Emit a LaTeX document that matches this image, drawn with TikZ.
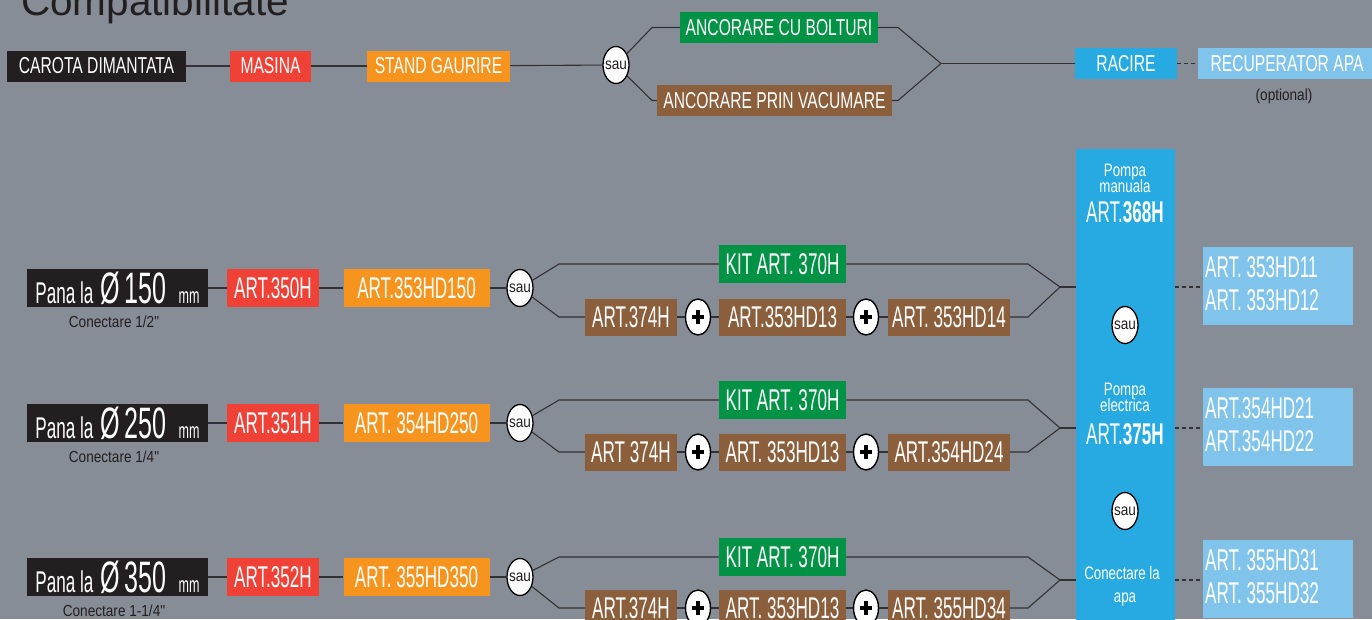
\documentclass[tikz,border=0pt]{standalone}
\usepackage{fontspec}
\setmainfont{Liberation Sans}
\newfontfamily\fA{Liberation Sans}[FakeStretch=0.68]
\newfontfamily\fB{Liberation Sans}[FakeStretch=0.57]
\newfontfamily\fC{Liberation Sans}[FakeStretch=0.74]
\newfontfamily\fD{Liberation Sans}[FakeStretch=0.85]
\usetikzlibrary{shapes.geometric}
\definecolor{bg}{RGB}{135,141,151}
\definecolor{cblack}{RGB}{35,31,32}
\definecolor{cred}{RGB}{239,65,54}
\definecolor{corange}{RGB}{247,148,30}
\definecolor{cgreen}{RGB}{0,146,69}
\definecolor{cbrown}{RGB}{139,94,60}
\definecolor{cblue}{RGB}{39,170,225}
\definecolor{clight}{RGB}{128,196,236}
\definecolor{cline}{RGB}{50,50,52}
\begin{document}
\begin{tikzpicture}[x=1pt,y=-1pt,
 topbox/.style={inner sep=0pt, minimum height=31pt, text=white, font=\fA\fontsize{23}{23}\selectfont},
 rowbox/.style={inner sep=0pt, minimum height=38pt, text=white, font=\fB\fontsize{30}{30}\selectfont},
 saunode/.style={ellipse, draw=black, line width=1.3pt, fill=white, inner sep=0pt, minimum width=26pt, minimum height=37pt, font=\fD\fontsize{16}{16}\selectfont, text=cblack},
 plusnode/.style={ellipse, draw=black, line width=1.4pt, fill=white, inner sep=0pt, minimum width=25pt, minimum height=36pt,
   path picture={\draw[black, line width=3.6pt] ([xshift=-6pt]path picture bounding box.center) -- ([xshift=6pt]path picture bounding box.center);
                 \draw[black, line width=3.6pt] ([yshift=-7pt]path picture bounding box.center) -- ([yshift=7pt]path picture bounding box.center);}},
 conn/.style={draw=cline, line width=1.1pt},
 dashconn/.style={conn, dash pattern=on 4pt off 3pt},
 captxt/.style={text=cblack, font=\fD\fontsize{16}{16}\selectfont, inner sep=0pt, anchor=base},
 ptxt/.style={text=white, font=\fC\fontsize{18}{18}\selectfont, inner sep=0pt, anchor=base},
 pbig/.style={text=white, font=\fB\fontsize{30}{30}\selectfont, inner sep=0pt, anchor=base},
 lbox/.style={fill=clight, minimum width=150pt, minimum height=78pt, inner sep=0pt},
 lbtxt/.style={text=white, font=\fB\fontsize{30}{30}\selectfont, inner sep=0pt, anchor=base west},
]
\useasboundingbox (0,0) rectangle (1372,619);
\clip (0,0) rectangle (1372,619);
\fill[bg] (0,0) rectangle (1372,619);

% title
\node[anchor=base west, inner sep=0pt, text=cblack, font=\fontsize{40.5}{40.5}\selectfont] (title) at (21,15) {Compatibilitate};

% right column
\node[fill=cblue, inner sep=0pt, minimum width=99pt, minimum height=480pt, anchor=north] (pump) at (1125.5,149) {};
\node[ptxt] (pt1) at (1125,176) {Pompa};
\node[ptxt] (pt2) at (1125,192) {manuala};
\node[pbig] (pt3) at (1125,222) {ART.\textbf{368H}};
\node[saunode] (ps1) at (1125,325) {\makebox[0pt]{sau}};
\node[ptxt] (pt4) at (1125,395) {Pompa};
\node[ptxt] (pt5) at (1125,411) {electrica};
\node[pbig] (pt6) at (1125,444) {ART.\textbf{375H}};
\node[saunode] (ps2) at (1125,511) {\makebox[0pt]{sau}};
\node[ptxt] (pt7) at (1122,579) {Conectare la};
\node[ptxt] (pt8) at (1125,602) {apa};

% top row
\node[topbox, fill=cblack, minimum width=179pt] (carota) at (96.5,66) {CAROTA DIMANTATA};
\node[topbox, fill=cred, minimum width=81pt] (masina) at (270.5,66) {MASINA};
\node[topbox, fill=corange, minimum width=143pt] (stand) at (438.5,66) {STAND GAURIRE};
\node[saunode] (sau0) at (616,65) {\makebox[0pt]{sau}};
\node[topbox, fill=cgreen, minimum width=198pt] (bolturi) at (779,27.5) {ANCORARE CU BOLTURI};
\node[topbox, fill=cbrown, minimum width=235pt] (vacum) at (774.5,100.5) {ANCORARE PRIN VACUMARE};
\node[topbox, fill=cblue, minimum width=102pt] (racire) at (1126,63.5) {RACIRE};
\node[topbox, fill=clight, minimum width=178pt] (recup) at (1287,63.5) {RECUPERATOR APA};
\node[captxt] (optional) at (1284,100) {(optional)};

\coordinate (t1) at (652,27.5);
\coordinate (t2) at (652,100.5);
\coordinate (t3) at (898,27.5);
\coordinate (t4) at (898,100.5);
\coordinate (tv) at (941,63.5);
\draw[conn] (carota) -- (masina);
\draw[conn] (masina) -- (stand);
\draw[conn] (stand) -- (sau0);
\draw[conn] (sau0) -- (t1) -- (bolturi);
\draw[conn] (sau0) -- (t2) -- (vacum);
\draw[conn] (bolturi) -- (t3) -- (tv) -- (t4) -- (vacum);
\draw[conn] (tv) -- (racire);
\draw[dashconn] (racire) -- (recup);

% rows
\foreach \r/\ym/\yu/\yl/\yv/\dia/\con/\ra/\ob/\ba/\bb/\bc/\la/\lb in {%
1/288/264/317/287/150/{Conectare 1/2"}/ART.350H/ART.353HD150/ART.374H/ART.353HD13/{ART. 353HD14}/{ART. 353HD11}/{ART. 353HD12},%
2/423/400/452/428/250/{Conectare 1/4"}/ART.351H/{ART. 354HD250}/{ART 374H}/{ART. 353HD13}/ART.354HD24/ART.354HD21/ART.354HD22,%
3/577/557/608/580/350/{Conectare 1-1/4"}/ART.352H/{ART. 355HD350}/ART.374H/{ART. 353HD13}/{ART. 355HD34}/{ART. 355HD31}/{ART. 355HD32}%
}{
 \node[rowbox, fill=cblack, minimum width=181pt] (blk\r) at (117.5,\ym)
   {{\fontsize{30}{30}\selectfont Pana la}\hspace{7pt}{\fontsize{44}{44}\selectfont Ø\hspace{5pt}\dia}\hspace{12pt}{\fontsize{22}{22}\selectfont mm}};
 \node[captxt] (con\r) at (114,{\ym+39}) {\con};
 \node[rowbox, fill=cred, minimum width=92pt] (red\r) at (273,\ym) {\ra};
 \node[rowbox, fill=corange, minimum width=146pt] (ora\r) at (416.5,\ym) {\ob};
 \node[saunode] (sau\r) at (520,\ym) {\makebox[0pt]{sau}};
 \node[rowbox, fill=cgreen, minimum width=127pt] (kit\r) at (782.5,\yu) {KIT ART. 370H};
 \node[rowbox, fill=cbrown, minimum width=92pt, minimum height=37pt] (ba\r) at (631,\yl) {\ba};
 \node[plusnode] (pa\r) at (698,\yl) {};
 \node[rowbox, fill=cbrown, minimum width=127pt, minimum height=37pt] (bb\r) at (782.5,\yl) {\bb};
 \node[plusnode] (pb\r) at (866,\yl) {};
 \node[rowbox, fill=cbrown, minimum width=122pt, minimum height=37pt] (bc\r) at (949,\yl) {\bc};
 \node[lbox] (lb\r) at (1278,{\yv-1.5}) {};
 \node[lbtxt] (lta\r) at (1205,{\yv-10}) {\la};
 \node[lbtxt] (ltb\r) at (1205,{\yv+23}) {\lb};
 \coordinate (cu\r) at (559,\yu);
 \coordinate (cl\r) at (559,\yl);
 \coordinate (du\r) at (1028,\yu);
 \coordinate (dl\r) at (1028,\yl);
 \coordinate (v\r) at (1060,\yv);
 \draw[conn] (blk\r) -- (red\r);
 \draw[conn] (red\r) -- (ora\r);
 \draw[conn] (ora\r) -- (sau\r);
 \draw[conn] (sau\r) -- (cu\r) -- (kit\r);
 \draw[conn] (sau\r) -- (cl\r) -- (ba\r);
 \draw[conn] (ba\r) -- (pa\r);
 \draw[conn] (pa\r) -- (bb\r);
 \draw[conn] (bb\r) -- (pb\r);
 \draw[conn] (pb\r) -- (bc\r);
 \draw[conn] (kit\r) -- (du\r) -- (v\r) -- (dl\r) -- (bc\r);
 \draw[conn] (v\r) -- (pump.west |- v\r);
 \draw[dashconn] (pump.east |- v\r) -- (lb\r.west |- v\r);
}
\end{tikzpicture}
\end{document}
